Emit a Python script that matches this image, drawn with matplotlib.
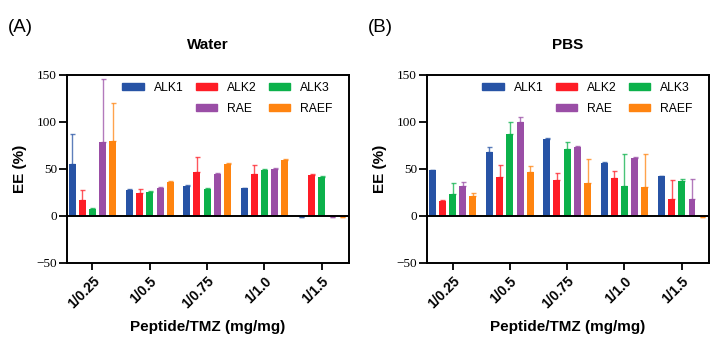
import matplotlib
matplotlib.use("Agg")
import matplotlib.pyplot as plt
from matplotlib.patches import Patch
import numpy as np

plt.rcParams["font.serif"] = ["Liberation Serif", "DejaVu Serif"]

groups = ["1/0.25", "1/0.5", "1/0.75", "1/1.0", "1/1.5"]
series = ["ALK1", "ALK2", "ALK3", "RAE", "RAEF"]
colors = ["#2753a5", "#fe1d26", "#0cb14b", "#9a4ea6", "#ff8410"]

water_alk1 = [55.5, 28.0, 31.5, 29.3, -1.5]
water_alk2 = [17.5, 24.6, 47.0, 45.0, 43.5]
water_alk3 = [7.5, 25.7, 28.6, 49.0, 41.4]
water_rae = [79.0, 29.6, 44.8, 50.2, -1.0]
water_raef = [80.0, 35.7, 55.2, 59.6, -1.0]
water_alk1_err = [32.0, 0.8, 1.0, 0.8, 0.0]
water_alk2_err = [10.5, 4.5, 16.0, 9.0, 0.8]
water_alk3_err = [0.5, 0.8, 0.8, 0.8, 0.8]
water_rae_err = [67.0, 0.8, 0.5, 0.8, 0.0]
water_raef_err = [40.0, 1.0, 0.8, 0.8, 0.0]

pbs_alk1 = [48.6, 68.2, 81.4, 56.8, 42.9]
pbs_alk2 = [15.7, 41.4, 38.6, 40.4, 17.9]
pbs_alk3 = [23.2, 87.5, 71.4, 31.4, 36.8]
pbs_rae = [32.0, 100.0, 73.6, 61.4, 18.2]
pbs_raef = [21.4, 46.8, 35.4, 31.0, -1.5]
pbs_alk1_err = [0.8, 5.4, 1.5, 0.8, 0.0]
pbs_alk2_err = [1.1, 12.9, 7.1, 7.5, 20.7]
pbs_alk3_err = [11.8, 12.1, 6.8, 34.6, 2.5]
pbs_rae_err = [3.7, 5.0, 0.5, 1.1, 20.7]
pbs_raef_err = [2.9, 6.1, 25.0, 34.4, 0.0]

panels = [
    ("(A)", "Water",
     [water_alk1, water_alk2, water_alk3, water_rae, water_raef],
     [water_alk1_err, water_alk2_err, water_alk3_err, water_rae_err, water_raef_err]),
    ("(B)", "PBS",
     [pbs_alk1, pbs_alk2, pbs_alk3, pbs_rae, pbs_raef],
     [pbs_alk1_err, pbs_alk2_err, pbs_alk3_err, pbs_rae_err, pbs_raef_err]),
]

fig = plt.figure(figsize=(7.18, 3.42), dpi=100)
lefts = [0.0929, 0.5943]
w = 0.3936
bottom = 0.231
h = 0.781 - 0.231

x = np.arange(len(groups))
step = 0.178
bw = 0.122

for i, (tag, title, vals, errs) in enumerate(panels):
    ax = fig.add_axes([lefts[i], bottom, w, h])
    for j, (name, v, e, c) in enumerate(zip(series, vals, errs, colors)):
        xpos = x + (j - 2) * step
        ax.bar(xpos, v, width=bw, color=c, zorder=2)
        ax.errorbar(xpos, v, yerr=[np.zeros(len(e)), e], fmt="none",
                    ecolor=c, elinewidth=1.0, capsize=1.8, capthick=1.0,
                    alpha=0.75, zorder=1.5)
    ax.axhline(0, color="black", lw=1.4, zorder=3)
    ax.set_xlim(-0.45, 4.48)
    ax.set_ylim(-50, 150)
    ax.set_yticks([-50, 0, 50, 100, 150])
    ax.set_yticklabels(["\u221250", "0", "50", "100", "150"])
    plt.setp(ax.get_yticklabels(), fontfamily="serif", fontsize=9.5)
    ax.set_xticks(x)
    ax.set_xticklabels(groups, rotation=45, ha="right", rotation_mode="anchor",
                       fontweight="bold", fontsize=10, family="Liberation Sans")
    ax.tick_params(axis="both", direction="out", width=1.3, length=5.5, pad=1.5)
    ax.tick_params(axis="x", length=5, pad=3)
    for s in ax.spines.values():
        s.set_linewidth(1.4)
    ax.set_ylabel("EE (%)", fontweight="bold", fontsize=11,
                  family="Liberation Sans", labelpad=7)
    ax.set_xlabel("Peptide/TMZ (mg/mg)", fontweight="bold", fontsize=11,
                  family="Liberation Sans", labelpad=6)
    ax.set_title(title, fontweight="bold", fontsize=11,
                 family="Liberation Sans", pad=19)
    fig.text(lefts[i] - 0.082, 0.92, tag, fontsize=13.5, family="Liberation Sans",
             ha="left", va="center")

    handles = [Patch(color=colors[0]), Patch(visible=False),
               Patch(color=colors[1]), Patch(color=colors[3]),
               Patch(color=colors[2]), Patch(color=colors[4])]
    labels = ["ALK1", "", "ALK2", "RAE", "ALK3", "RAEF"]
    ax.legend(handles, labels, ncol=3, loc="upper right", frameon=False,
              prop={"family": "Liberation Sans", "size": 8.7},
              handlelength=1.75, handleheight=0.5, handletextpad=0.85,
              columnspacing=1.0, labelspacing=0.75,
              bbox_to_anchor=(0.965, 1.0), borderaxespad=0.15)

fig.savefig("out.png", dpi=100)
